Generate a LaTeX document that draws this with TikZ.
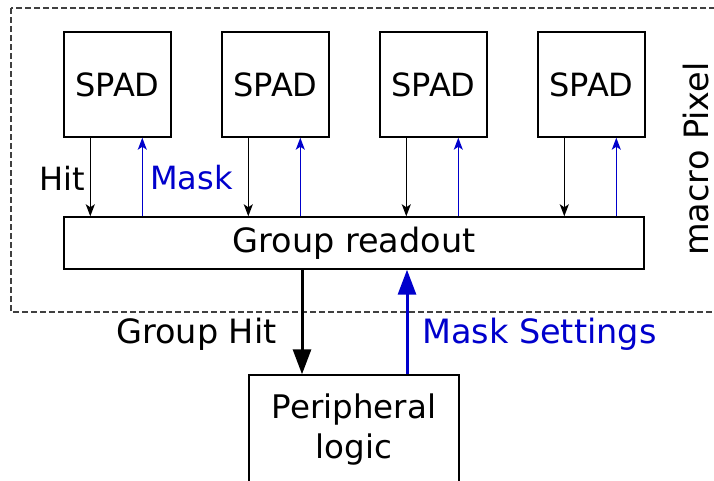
\documentclass[tikz,border=0pt]{standalone}
\usepackage{fontspec}
\setmainfont{DejaVu Sans}
\usetikzlibrary{arrows.meta,calc}
\definecolor{mblue}{RGB}{0,0,204}
\begin{document}
\begin{tikzpicture}[x=1pt,y=-1pt,
  box/.style={draw,line width=1.4pt,inner sep=0pt},
  spadbox/.style={box,minimum width=107pt,minimum height=105pt,font=\fontsize{32}{36}\selectfont},
  lbl/.style={font=\fontsize{32}{40}\selectfont,inner sep=0pt},
  biglbl/.style={font=\fontsize{33.5}{40}\selectfont,inner sep=0pt},
  thin/.style={line width=1.3pt,-{Stealth[length=12pt,width=9pt,inset=3pt]}},
  thick/.style={line width=3pt,-{Triangle[length=25pt,width=18pt]}}]
\useasboundingbox (0,0) rectangle (714,480);
\draw[line width=1.2pt,dash pattern=on 6pt off 3pt,black!75] (11,8) rectangle (725,312);
\foreach \i in {1,...,4}{
  \node[spadbox] (s\i) at ({117.5+158*(\i-1)},84.5) {SPAD};
}
\node[box,minimum width=580pt,minimum height=52pt,font=\fontsize{33.5}{40}\selectfont] (gr) at (354,243) {Group readout};
\foreach \i in {1,...,4}{
  \coordinate (h\i) at ($(s\i.south west)+(27,0)$);
  \coordinate (m\i) at ($(s\i.south west)+(79,0)$);
  \draw[thin] (h\i) -- (h\i |- gr.north);
  \draw[thin,mblue] (m\i |- gr.north) -- (m\i);
}
\node[box,minimum width=210pt,minimum height=110pt,align=center,font=\fontsize{32.5}{40}\selectfont] (pl) at (354,430) {Peripheral\\logic};
\coordinate (gh) at (302,0);
\coordinate (ms) at (407,0);
\draw[thick] (gh |- gr.south) -- (gh |- pl.north);
\draw[thick,mblue] (ms |- pl.north) -- (ms |- gr.south);
\node[lbl] (hit) at (62,178) {Hit};
\node[lbl,mblue,anchor=west] (mask) at (150,178) {Mask};
\node[biglbl] (ghit) at (196.5,334) {Group Hit};
\node[biglbl,mblue,anchor=west] (mset) at (422,334) {Mask Settings};
\node[biglbl,rotate=90,text depth=0pt] (mp) at (696,159) {macro Pixel};
\end{tikzpicture}
\end{document}
